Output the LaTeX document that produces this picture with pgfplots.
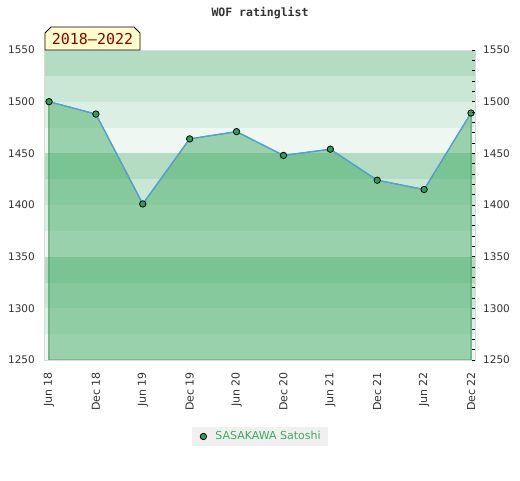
\documentclass[border=0pt]{standalone}
\usepackage{pgfplots}
\pgfplotsset{compat=1.18}
\usepackage{fontspec}
\setmainfont{DejaVu Sans}
\newfontfamily\monofont{DejaVu Sans Mono}
\definecolor{bandA}{HTML}{B3DCC3}
\definecolor{bandB}{HTML}{C9E7D5}
\definecolor{bandC}{HTML}{DCEFE4}
\definecolor{bandD}{HTML}{EEF7F2}
\definecolor{fillgreen}{RGB}{59,168,95}
\definecolor{edgegreen}{HTML}{3A9A5A}
\definecolor{lineblue}{HTML}{55A0D8}
\definecolor{markgreen}{HTML}{2E9E5A}
\definecolor{bordergray}{HTML}{DADADA}
\definecolor{labelgray}{HTML}{333333}
\definecolor{legendgray}{HTML}{F0F0F0}
\definecolor{legendgreen}{HTML}{3DAA5C}
\definecolor{badgeyellow}{HTML}{FFFFCC}
\definecolor{badgered}{HTML}{8B0000}
\begin{document}
\begin{tikzpicture}[x=1pt,y=1pt]
\path[use as bounding box] (0,0) rectangle (520,480);
\begin{axis}[
  at={(45pt,120pt)}, anchor=south west,
  scale only axis, width=430pt, height=310pt,
  xmin=-0.0853, xmax=9.0853, ymin=1250, ymax=1550,
  xtick={0,...,9},
  xticklabels={Jun 18,Dec 18,Jun 19,Dec 19,Jun 20,Dec 20,Jun 21,Dec 21,Jun 22,Dec 22},
  ytick={1250,1300,...,1550},
  axis on top,
  axis line style={draw=bordergray, line width=1pt},
  tick style={draw=none},
  xticklabel style={rotate=90, anchor=east, inner sep=0pt, font=\fontsize{11}{13}\selectfont, text=labelgray},
  xticklabel shift=12pt,
  yticklabel style={inner sep=0pt, font=\fontsize{10.5}{12}\selectfont, text=labelgray},
  yticklabel shift=10pt,
  /pgf/number format/assume math mode=true,
  /pgf/number format/1000 sep={},
  legend style={at={(axis description cs:0.5,0)}, anchor=center, yshift=-76.5pt,
    fill=legendgray, draw=none, font=\fontsize{11}{13}\selectfont, text=legendgreen,
    inner xsep=5pt, inner ysep=3pt},
  legend cell align=left,
]
% background bands
\fill[bandA] (axis cs:-1,1525) rectangle (axis cs:10,1550);
\fill[bandB] (axis cs:-1,1500) rectangle (axis cs:10,1525);
\fill[bandC] (axis cs:-1,1475) rectangle (axis cs:10,1500);
\fill[bandD] (axis cs:-1,1450) rectangle (axis cs:10,1475);
\fill[bandA] (axis cs:-1,1425) rectangle (axis cs:10,1450);
\fill[bandB] (axis cs:-1,1400) rectangle (axis cs:10,1425);
\fill[bandC] (axis cs:-1,1375) rectangle (axis cs:10,1400);
\fill[bandD] (axis cs:-1,1350) rectangle (axis cs:10,1375);
\fill[bandA] (axis cs:-1,1325) rectangle (axis cs:10,1350);
\fill[bandB] (axis cs:-1,1300) rectangle (axis cs:10,1325);
\fill[bandC] (axis cs:-1,1275) rectangle (axis cs:10,1300);
\fill[bandD] (axis cs:-1,1250) rectangle (axis cs:10,1275);
% area under the rating line
\addplot[forget plot, fill=fillgreen, fill opacity=0.47, draw=edgegreen, line width=1pt]
  coordinates {(0,1250) (0,1500) (1,1488) (2,1401) (3,1464) (4,1471) (5,1448) (6,1454) (7,1424) (8,1415) (9,1489) (9,1250)} -- cycle;
% rating line
\addplot[forget plot, color=lineblue, line width=1.3pt, mark=*, mark size=3.2pt,
  mark options={fill=markgreen, draw=black, line width=0.8pt}]
  coordinates {(0,1500) (1,1488) (2,1401) (3,1464) (4,1471) (5,1448) (6,1454) (7,1424) (8,1415) (9,1489)};
\addlegendimage{legend image code/.code={\path[draw=none, fill=none] (-6pt,-3pt) rectangle (10pt,3pt); \draw[fill=markgreen, draw=black, line width=0.8pt] (0pt,0pt) circle (3.2pt);}}
\addlegendentry{SASAKAWA Satoshi\hspace{2pt}}
\end{axis}
\begin{axis}[
  at={(45pt,120pt)}, anchor=south west,
  scale only axis, width=430pt, height=310pt,
  xmin=-0.0853, xmax=9.0853, ymin=1250, ymax=1550,
  axis x line=none, axis y line*=right,
  y axis line style={draw=none},
  ytick={1250,1300,...,1550},
  minor ytick={1260,1270,...,1540},
  tick align=inside,
  major tick length=3pt, minor tick length=3pt,
  tick style={draw=black, line width=0.8pt},
  yticklabel style={inner sep=0pt, font=\fontsize{10.5}{12}\selectfont, text=labelgray},
  yticklabel shift=8pt,
  /pgf/number format/assume math mode=true,
  /pgf/number format/1000 sep={},
]
\end{axis}
% title
\node[font=\monofont\bfseries\fontsize{11.5}{13}\selectfont, text=labelgray] at (260,466.5) {WOF ratinglist};
% badge
\filldraw[fill=badgeyellow, draw=black, line width=0.8pt] (45,430) -- (45,447) -- (51,453) -- (134,453) -- (140,447) -- (140,430) -- cycle;
\node[font=\monofont\fontsize{15}{17}\selectfont, text=badgered] at (92.5,441) {2018–2022};
\end{tikzpicture}
\end{document}
